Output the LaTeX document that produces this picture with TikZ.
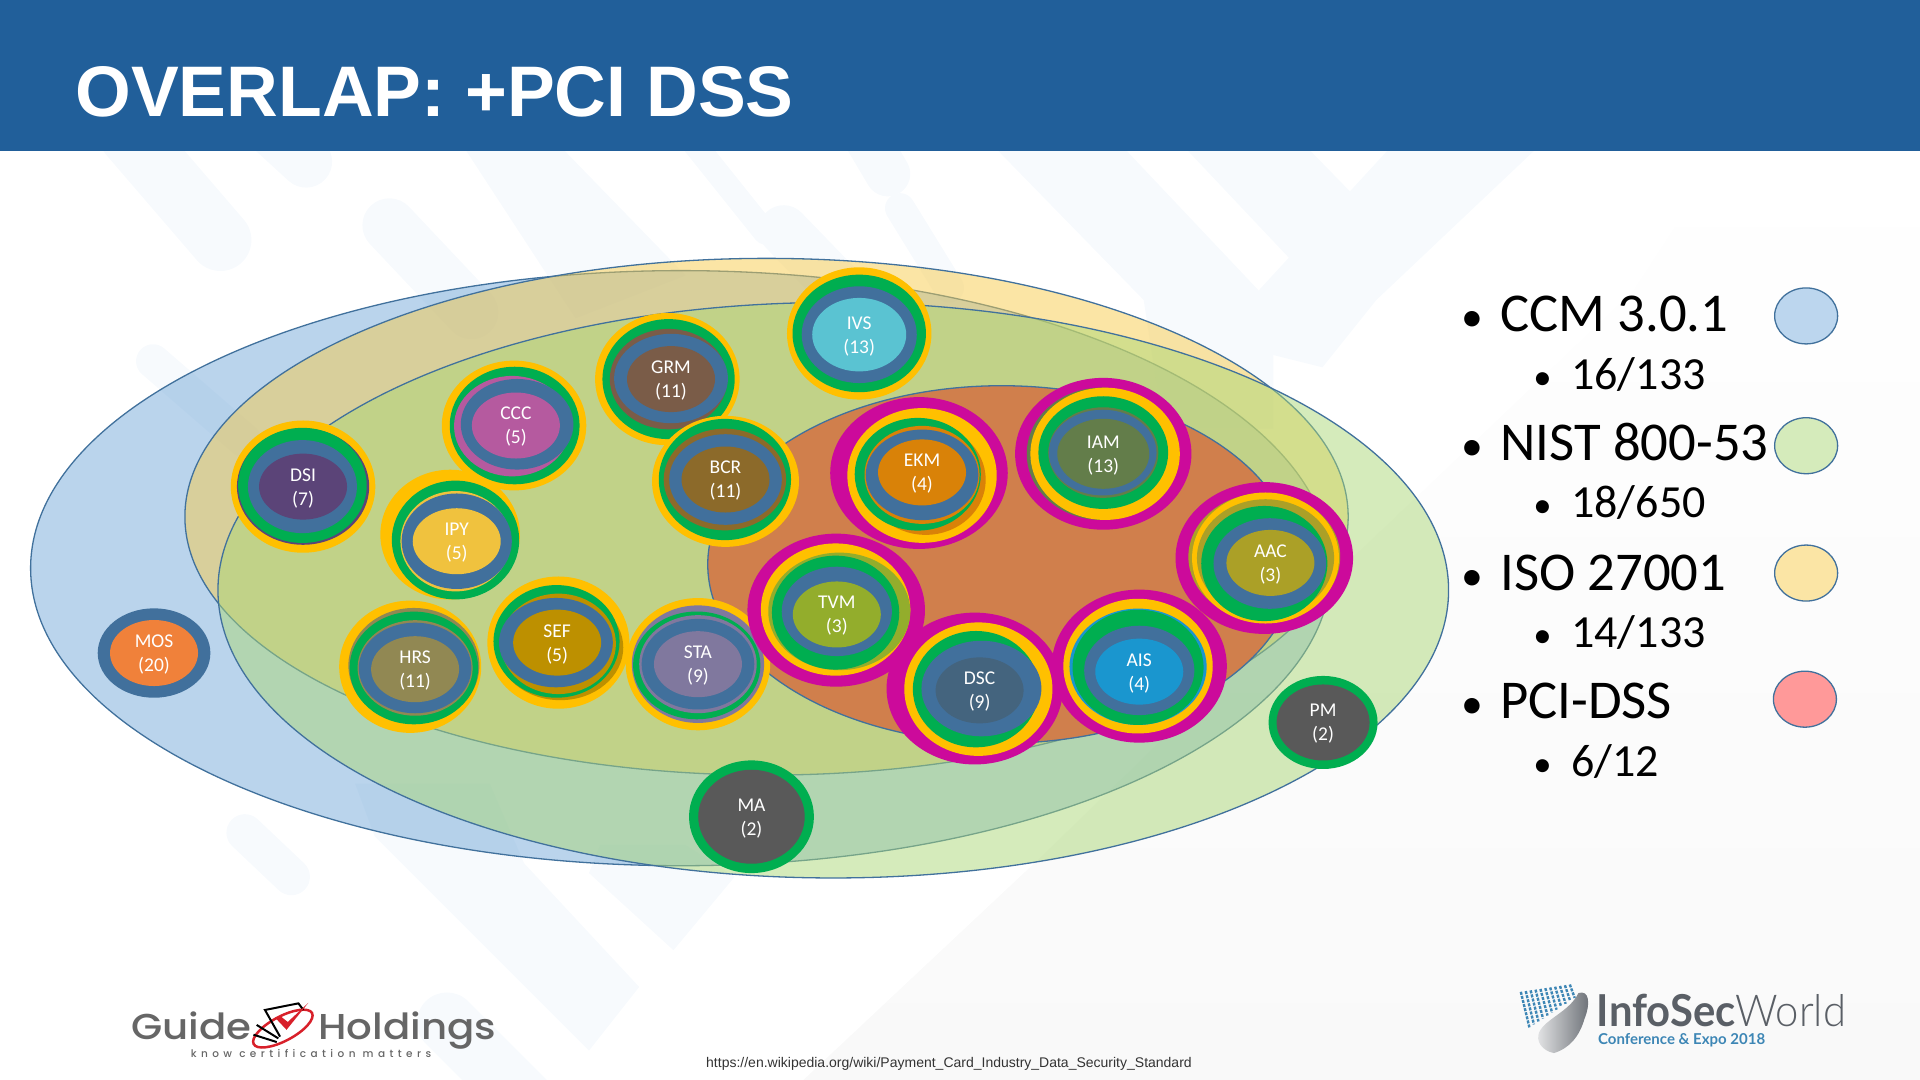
\documentclass[tikz,border=0pt]{standalone}
\usepackage{fontspec}
\setmainfont{Carlito}
\newfontfamily\titlefont{Liberation Sans}
\newfontfamily\logofont{Poppins Medium}
\newfontfamily\isfont{Lato}
\newfontfamily\islight{Lato Light}
\usetikzlibrary{shapes.geometric}
\definecolor{HeadBlue}  {HTML}{215F9A}
\definecolor{SetEdge}   {HTML}{41719C}
\definecolor{SetBlue}   {HTML}{75A9D9}
\definecolor{SetGreen}  {HTML}{ABD777}
\definecolor{SetYellow} {HTML}{F7CB4B}
\definecolor{SetOrange} {HTML}{D07F4C}
\definecolor{RingM}     {HTML}{CC0A9B}
\definecolor{RingY}     {HTML}{FFC000}
\definecolor{RingG}     {HTML}{00AE50}
\definecolor{RingB}     {HTML}{41709C}
\definecolor{MarkBlue}  {HTML}{F7FAFD}
\definecolor{MarkGrey}  {HTML}{F9F9F9}
\definecolor{LogoGrey}  {HTML}{666666}
\definecolor{IsGrey}    {HTML}{5A5F66}
\definecolor{IsBlue}    {HTML}{3D86B5}
\definecolor{UrlGrey}   {HTML}{333333}
\definecolor{LogoRed}   {HTML}{D8202A}
\definecolor{SwBlue}    {HTML}{BCD6EE}
\definecolor{SwGreen}   {HTML}{D5EBBB}
\definecolor{SwYellow}  {HTML}{FBE5A5}
\definecolor{SwRed}     {HTML}{FF9999}
\definecolor{CoMOS}{HTML}{F0813A}
\definecolor{CoDSI}{HTML}{5B4478}
\definecolor{CoCCC}{HTML}{B55A9F}
\definecolor{CoGRM}{HTML}{7A5C48}
\definecolor{CoIVS}{HTML}{5AC3D2}
\definecolor{CoBCR}{HTML}{8C6A2A}
\definecolor{CoIPY}{HTML}{F0C23E}
\definecolor{CoSEF}{HTML}{BD9000}
\definecolor{CoHRS}{HTML}{918853}
\definecolor{CoSTA}{HTML}{80789E}
\definecolor{CoEKM}{HTML}{D98208}
\definecolor{CoIAM}{HTML}{637D4A}
\definecolor{CoAAC}{HTML}{ABA027}
\definecolor{CoTVM}{HTML}{93AD2C}
\definecolor{CoDSC}{HTML}{44647E}
\definecolor{CoAIS}{HTML}{1A96CF}
\definecolor{CoDark}{HTML}{595959}
\tikzset{
  setell/.style={draw=SetEdge,line width=1.3pt,fill opacity=0.5},
  innerdisc/.style={ellipse,inner sep=0pt,minimum width=88pt,minimum height=66pt},
  disctext/.style={inner sep=0pt,text=white,align=center,font=\fontsize{19.5}{24}\selectfont},
  swatch/.style={ellipse,draw=SetEdge,line width=1.3pt,inner sep=0pt,
    minimum width=63pt,minimum height=56pt},
  legmain/.style={anchor=base west,inner sep=0pt,font=\fontsize{54.7}{60}\selectfont},
  legsub/.style={anchor=base west,inner sep=0pt,font=\fontsize{46}{50}\selectfont},
  markline/.style={MarkBlue,line cap=round},
}
\newcommand{\legbul}[1]{\makebox[#1][l]{\scalebox{.8}{\textbullet}}}
\newcommand{\bubble}[7][]{%
  \begin{scope}[shift={(#3,#4)}]
    \colorlet{bubbleC}{#5}
    \foreach \ringc/\ringx/\ringy/\ringa/\ringb in {#7} {
      \fill[fill=\ringc] (\ringx,\ringy) ellipse [x radius=\ringa,y radius=\ringb];
    }
    \node[innerdisc,fill=#5,#1] (#2) at (0,0) {};
    \node[disctext] (#2txt) at (0,1.2) {#6};
  \end{scope}}
\begin{document}
\begin{tikzpicture}[x=1.22449pt,y=-1.22449pt]
  \useasboundingbox (0,0) rectangle (1568,882);
  % faint backdrop
  \shade[top color=white,middle color=MarkGrey,bottom color=MarkGrey]
    (656,882) -- (850,700) -- (953,600) -- (1334,237) -- (1409,122) -- (1568,122) -- (1568,882) -- cycle;
  \draw[markline,line width=62pt] (106,110) -- (180,196);
  \draw[markline,line width=52pt] (215,100) -- (250,132);
  \draw[markline,line width=54pt] (318,184) -- (385,255);
  \fill[MarkBlue] (380,122) -- (460,122) -- (560,225) -- (470,260) -- cycle;
  \draw[markline,line width=24pt] (561,110) -- (625,190);
  \draw[markline,line width=50pt] (640,188) -- (700,250);
  \draw[markline,line width=45pt] (700,100) -- (725,142);
  \draw[markline,line width=30pt] (735,170) -- (775,235);
  \fill[MarkBlue] (814,122) -- (919,122) -- (1040,250) -- (1040,350) -- (950,350) -- (934,245) -- cycle;
  \fill[MarkBlue] (969,122) -- (1069,122) -- (1109,163) -- (1054,212) -- cycle;
  \fill[MarkBlue] (1134,122) -- (1254,122) -- (1124,245) -- (1080,300) -- (1000,280) -- (1029,236) -- cycle;
  \draw[markline,line width=34pt] (125,295) -- (200,360);
  \draw[markline,line width=37pt] (200,680) -- (238,716);
  \fill[MarkBlue] (306,683) -- (481,858) -- (522,806) -- (428,705) -- (400,640) -- (290,640) -- cycle;
  \fill[MarkBlue] (481,713) -- (550,776) -- (600,716) -- (560,690) -- (490,690) -- cycle;
  \draw[markline,line width=60pt] (365,835) -- (430,900);
  % header
  \fill[HeadBlue] (0,0) rectangle (1568,123);
  \node[anchor=base west,inner sep=0pt,text=white,font=\titlefont\bfseries\fontsize{71.6}{76}\selectfont]
    (title) at (61.5,95) {OVERLAP: +PCI DSS};
  % sets
  \filldraw[setell,fill=SetBlue]   (556,464) ellipse [x radius=531,y radius=243];
  \filldraw[setell,fill=SetYellow] (626,422) ellipse [x radius=475,y radius=211];
  \filldraw[setell,fill=SetGreen]  (680.5,482) ellipse [x radius=502.5,y radius=235];
  \filldraw[draw=SetEdge,line width=1.3pt,fill=SetOrange] (818,461) ellipse [x radius=240,y radius=146];
  % control families
  \bubble{mos}{125.8}{533.3}{CoMOS}{MOS\\(20)}{RingB/0/0/46/36.5}
  \bubble{dsi}{247.5}{397.4}{CoDSI}{DSI\\(7)}{RingY/0/0/59/54,bubbleC/0/0/54/47.5,RingG/-.5/-1/52.5/47,RingB/-.5/0/44.5/38}
  \bubble{ccc}{421.3}{347.5}{CoCCC}{CCC\\(5)}{RingY/-1.5/0/59/53,RingG/-1/0/53/48,bubbleC/-3/.5/47.5/41,RingB/1/-1/46/37}
  \bubble{grm}{548}{309.6}{CoGRM}{GRM\\(11)}{RingY/-3/0/59/54,RingG/-2/0/54/49,bubbleC/-2/0/48/41,RingB/0/-.5/46.5/36.5}
  \bubble[minimum width=94pt,minimum height=73.5pt]{ivs}{701.7}{273.3}{CoIVS}{IVS\\(13)}{RingY/0/-1/59/54,RingG/0/-1/54.5/48,RingB/0/0/47/39.5}
  \bubble{bcr}{592.5}{391.6}{CoBCR}{BCR\\(11)}{RingY/0/1.5/60/53.5,RingG/-.5/0/54/49.5,bubbleC/-.5/0/50/41.5,RingB/0/0/46/37}
  \bubble{ipy}{373}{442}{CoIPY}{IPY\\(5)}{RingY/-5.4/-5.4/57/53,RingG/-1/-1/52/48.5,bubbleC/-1/0/45/41,RingB/0/0/45/39}
  \bubble{sef}{455}{524.8}{CoSEF}{SEF\\(5)}{RingY/1/0/58/54,bubbleC/2.5/4/51.5/43,RingG/-.5/-1/51.5/46,bubbleC/1/1/47/41,RingB/-1/0/46.5/36.5}
  \bubble{hrs}{339}{546.5}{CoHRS}{HRS\\(11)}{RingY/-4/-2/58/54,bubbleC/-1/-3/53.5/47,RingG/-1/-1/52.5/46,bubbleC/0/-1/47/39,RingB/0/-1/46/37}
  \bubble{sta}{570}{542.4}{CoSTA}{STA\\(9)}{RingY/0/0/59/54,bubbleC/0/0/54/48,RingG/-1/1/52/44,bubbleC/0/0/48/40,RingB/0/0/46/37}
  \bubble{ekm}{753}{385.8}{CoEKM}{EKM\\(4)}{RingM/-2.5/.5/72.5/62,RingY/0/2.5/61/55,bubbleC/3/6/49/45,RingG/-3.5/1.5/51.5/46,bubbleC/0/2/47/40,RingB/0/2/46/37}
  \bubble[minimum width=92pt,minimum height=70pt]{iam}{901}{370.6}{CoIAM}{IAM\\(13)}{RingM/0/0/72/62,bubbleC/-1.5/0/61/54,RingY/1.5/0/61/54,RingG/0/-1/53/46,bubbleC/0/-1/45/37,RingB/-.5/-1/44/35}
  \bubble{aac}{1037.5}{459.7}{CoAAC}{AAC\\(3)}{RingM/-5/-4/72.5/62,bubbleC/-5/-5/62/52,RingY/-4/-4/60/53.5,bubbleC/-4/-4/56/48,RingG/-5/.5/51.5/47,RingB/-.5/.5/46/37}
  \bubble{tvm}{683.4}{501.8}{CoTVM}{TVM\\(3)}{RingM/-.5/-3.5/72.5/62.5,RingY/-1/-4/61/54,bubbleC/2/-2.5/58/48,RingG/-1/-1.5/52/46.5,RingB/0/-2.5/45/36.5}
  \bubble{dsc}{800}{563.8}{CoDSC}{DSC\\(9)}{RingM/-4/-1.5/72/62,RingY/-1/-1/60.5/54.5,RingG/-3/-1/51.5/47.5,RingB/1.5/-1.5/49/39}
  \bubble{ais}{930.4}{548.5}{CoAIS}{AIS\\(4)}{RingM/0/-4.5/71.5/62.5,RingY/-1/-4.5/61/55,bubbleC/-1/-4/56/47.5,RingG/-1/-3.5/53.5/47,RingB/0/-1/45/36.5}
  \bubble[minimum width=106.5pt,minimum height=94pt]{ma}{613.7}{667}{CoDark}{MA\\(2)}{RingG/0/0/51/46}
  \bubble[minimum width=93pt,minimum height=76pt]{pm}{1080.5}{590}{CoDark}{PM\\(2)}{RingG/0/0/44.5/38}
  % legend
  \node[legmain] (ccm) at (1193,271) {\legbul{39.2pt}CCM 3.0.1};
  \node[legsub] (ccmn) at (1252,318) {\legbul{38pt}16/133};
  \node[legmain] (nist) at (1193,376) {\legbul{39.2pt}NIST 800-53};
  \node[legsub] (nistn) at (1252,423) {\legbul{38pt}18/650};
  \node[legmain] (iso) at (1193,482) {\legbul{39.2pt}ISO 27001};
  \node[legsub] (ison) at (1252,529) {\legbul{38pt}14/133};
  \node[legmain] (pci) at (1193,587) {\legbul{39.2pt}PCI-DSS};
  \node[legsub] (pcin) at (1252,634) {\legbul{38pt}6/12};
  \node[swatch,fill=SwBlue] (swccm) at (1475,258) {};
  \node[swatch,fill=SwGreen] (swnist) at (1475,364) {};
  \node[swatch,fill=SwYellow] (swiso) at (1475,468) {};
  \node[swatch,fill=SwRed] (swpci) at (1474,571) {};
  % footer
  \node[anchor=base,inner sep=0pt,font=\titlefont\fontsize{14}{16}\selectfont,text=UrlGrey]
    (url) at (775,872) {https://en.wikipedia.org/wiki/Payment\_Card\_Industry\_Data\_Security\_Standard};
  % guide logo
  \node[anchor=base west,inner sep=0pt,text=LogoGrey,font=\logofont\fontsize{36}{40}\selectfont]
    (guide) at (107,849) {\scalebox{1.12}[1]{Guide}};
  \node[anchor=base west,inner sep=0pt,text=LogoGrey,font=\logofont\fontsize{36}{40}\selectfont]
    (holdings) at (260,849) {\scalebox{1.12}[1]{Holdings}};
  \node[anchor=base,inner sep=0pt,text=LogoGrey,font=\logofont\fontsize{10.5}{12}\selectfont]
    (tagline) at (254,864) {\addfontfeature{LetterSpace=42}know certification matters};
  \draw[LogoRed,line width=2.5pt] (231,840) ellipse [x radius=27,y radius=10,rotate=28];
  \draw[black,line width=2pt] (209.6,837) -- (227.3,848);
  \draw[black,line width=2pt] (228.7,846.6) -- (216.4,824.8) -- (243.7,819.4) -- (247.8,824.8);
  \draw[black,line width=2pt] (207,845) -- (226,851);
  \fill[LogoRed] (224.6,831) -- (234,841) -- (251.8,819) -- (235,834.6) -- (230,830.6) -- cycle;
  % infosec logo
  \shade[left color=IsGrey!15,right color=IsGrey!90]
    (1289,811) .. controls (1298,808) and (1299,820) .. (1294,832)
    .. controls (1290,846) and (1282,856) .. (1269,860)
    .. controls (1259,858) and (1254,850) .. (1257,843)
    .. controls (1262,832) and (1282,826) .. (1289,811) -- cycle;
  \foreach \i in {0,...,10} {
    \draw[IsBlue,line width=2.4pt,dash pattern=on 3pt off 1.2pt]
      (1242+\i*4,810-\i*.6) -- (1249+\i*3.7,839-\i*2.4);
  }
  \node[anchor=base west,inner sep=0pt,text=IsGrey,font=\fontsize{44}{46}\selectfont]
    (infosec) at (1304,838.5) {\scalebox{.95}[1]{{\isfont\bfseries InfoSec}{\islight World}}};
  \node[anchor=base west,inner sep=0pt,text=IsBlue,font=\isfont\bfseries\fontsize{15}{17}\selectfont]
    (expo) at (1305,853) {Conference \& Expo 2018};
\end{tikzpicture}
\end{document}
